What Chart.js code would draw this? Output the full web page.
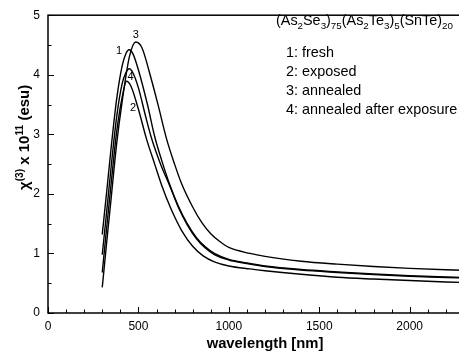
<!DOCTYPE html>
<html>
<head>
<meta charset="utf-8">
<script src="https://cdn.jsdelivr.net/npm/chart.js@4.4.0/dist/chart.umd.min.js"></script>
<style>
  html, body { margin: 0; padding: 0; background: #fff; overflow: hidden; }
  #wrap { width: 484px; height: 354px; }
</style>
</head>
<body>
<div id="wrap"><canvas id="chart" width="484" height="354"></canvas></div>
<script>
// dados
const freshNm = [300, 325, 350, 380, 410, 430, 449, 470, 500, 550, 591, 630, 674, 720, 770, 820, 870, 920, 1000, 1100, 1200, 1400, 1600, 1800, 2000, 2200, 2400];
const freshChi = [1.32, 2.05, 2.8, 3.6, 4.15, 4.35, 4.42, 4.35, 4.08, 3.5, 2.95, 2.55, 2.15, 1.8, 1.5, 1.27, 1.11, 1.0, 0.9, 0.84, 0.79, 0.73, 0.69, 0.655, 0.625, 0.605, 0.59];

const exposedNm = [300, 325, 350, 380, 410, 434, 460, 500, 545, 590, 628, 680, 740, 800, 858, 920, 1000, 1117, 1200, 1400, 1600, 1800, 2000, 2200, 2400];
const exposedChi = [0.68, 1.45, 2.2, 3.05, 3.62, 3.89, 3.8, 3.42, 2.92, 2.5, 2.15, 1.75, 1.38, 1.12, 0.96, 0.86, 0.79, 0.74, 0.71, 0.65, 0.6, 0.57, 0.545, 0.52, 0.505];

const annealedNm = [300, 325, 350, 380, 410, 450, 485, 520, 560, 609, 656, 700, 739, 800, 850, 900, 950, 1000, 1117, 1200, 1400, 1600, 1800, 2000, 2200, 2400];
const annealedChi = [0.43, 1.2, 1.95, 2.85, 3.55, 4.3, 4.55, 4.45, 4.05, 3.49, 2.92, 2.5, 2.17, 1.78, 1.52, 1.33, 1.2, 1.1, 1.0, 0.95, 0.87, 0.82, 0.78, 0.75, 0.725, 0.71];

const annealedExpNm = [300, 325, 350, 380, 410, 430, 449, 470, 500, 540, 573, 620, 674, 720, 770, 820, 870, 920, 1000, 1100, 1200, 1400, 1600, 1800, 2000, 2200, 2400];
const annealedExpChi = [0.98, 1.72, 2.48, 3.3, 3.85, 4.03, 4.10, 4.03, 3.78, 3.3, 2.93, 2.52, 2.13, 1.78, 1.48, 1.25, 1.09, 0.98, 0.89, 0.83, 0.78, 0.72, 0.68, 0.645, 0.615, 0.595, 0.58];

const curveLabels = ['1', '2', '3', '4'];
const labelPos = [[393, 4.4], [471, 3.44], [486, 4.67], [456, 3.97]];
const legendLines = ['1: fresh', '2: exposed', '3: annealed', '4: annealed after exposure'];
const xTicks = [0, 500, 1000, 1500, 2000];
const yTicks = [0, 1, 2, 3, 4, 5];

const FONT = '"Liberation Sans", Arial, sans-serif';

function pts(xs, ys) {
    return xs.map((x, i) => ({ x: x, y: ys[i] }));
}

function lineSet(xs, ys) {
    return {
        data: pts(xs, ys),
        borderColor: '#000',
        borderWidth: 1.4,
        pointRadius: 0,
        fill: false,
        cubicInterpolationMode: 'monotone'
    };
}

// escreve texto com indices (sub / sup)
function drawRuns(ctx, runs, x, y, size, weight) {
    let cx = x;
    runs.forEach(r => {
        const small = r[1] !== 0;
        const fs = small ? size * 0.68 : size;
        ctx.font = weight + ' ' + fs + 'px ' + FONT;
        const dy = r[1] === 1 ? size * 0.28 : (r[1] === -1 ? -size * 0.42 : 0);
        ctx.fillText(r[0], cx, y + dy);
        cx += ctx.measureText(r[0]).width;
    });
}

const decor = {
    id: 'decor',
    afterDraw(chart) {
        const ctx = chart.ctx;
        const a = chart.chartArea;
        const xs = chart.scales.x, ys = chart.scales.y;
        ctx.save();
        ctx.strokeStyle = '#000';
        ctx.fillStyle = '#000';

        // moldura
        ctx.lineWidth = 1.5;
        ctx.strokeRect(a.left, a.top, a.right - a.left, a.bottom - a.top);

        // ticks para dentro
        ctx.lineWidth = 1;
        for (let v = 0; v <= 2400; v += 100) {
            const px = Math.round(xs.getPixelForValue(v)) + 0.5;
            const len = v % 500 === 0 ? 6 : 3.5;
            ctx.beginPath();
            ctx.moveTo(px, a.bottom);
            ctx.lineTo(px, a.bottom - len);
            ctx.stroke();
        }
        for (let v = 0; v <= 5; v += 0.5) {
            const py = Math.round(ys.getPixelForValue(v)) + 0.5;
            const len = v % 1 === 0 ? 6 : 3.5;
            ctx.beginPath();
            ctx.moveTo(a.left, py);
            ctx.lineTo(a.left + len, py);
            ctx.stroke();
        }

        // numeros das curvas
        ctx.font = '11px ' + FONT;
        ctx.textAlign = 'center';
        ctx.textBaseline = 'middle';
        curveLabels.forEach((t, i) => {
            ctx.fillText(t, xs.getPixelForValue(labelPos[i][0]), ys.getPixelForValue(labelPos[i][1]));
        });

        // legenda
        ctx.textAlign = 'left';
        ctx.textBaseline = 'alphabetic';
        drawRuns(ctx, [['(As', 0], ['2', 1], ['Se', 0], ['3', 1], [')', 0], ['75', 1],
            ['(As', 0], ['2', 1], ['Te', 0], ['3', 1], [')', 0], ['5', 1],
            ['(SnTe)', 0], ['20', 1]], 276, 25, 14.4, 'normal');
        ctx.font = '14.4px ' + FONT;
        legendLines.forEach((t, i) => ctx.fillText(t, 286, 57 + i * 19));

        // titulo x
        ctx.font = 'bold 14.8px ' + FONT;
        ctx.textAlign = 'center';
        ctx.fillText('wavelength [nm]', (a.left + a.right) / 2, 348);

        // titulo y
        ctx.translate(29, 190);
        ctx.rotate(-Math.PI / 2);
        ctx.textAlign = 'left';
        drawRuns(ctx, [['\u03C7', 0], ['(3)', -1], [' x 10', 0], ['11', -1], [' (esu)', 0]], 0, 0, 15, 'bold');
        ctx.restore();
    }
};

new Chart(document.getElementById('chart').getContext('2d'), {
    type: 'line',
    data: {
        datasets: [
            lineSet(freshNm, freshChi),
            lineSet(exposedNm, exposedChi),
            lineSet(annealedNm, annealedChi),
            lineSet(annealedExpNm, annealedExpChi)
        ]
    },
    options: {
        responsive: false,
        animation: false,
        layout: { padding: { top: 8, right: 2, left: 0, bottom: 0 } },
        plugins: { legend: { display: false }, tooltip: { enabled: false } },
        scales: {
            x: {
                type: 'linear',
                min: 0,
                max: 2400,
                afterBuildTicks: s => { s.ticks = xTicks.map(v => ({ value: v })); },
                afterFit: s => { s.height = 41; },
                grid: { display: false, drawTicks: false },
                border: { display: false },
                ticks: { color: '#000', font: { size: 12, family: FONT }, padding: 6, maxRotation: 0, callback: v => String(v) }
            },
            y: {
                min: 0,
                max: 5,
                afterBuildTicks: s => { s.ticks = yTicks.map(v => ({ value: v })); },
                afterFit: s => { s.width = 48; },
                grid: { display: false, drawTicks: false },
                border: { display: false },
                ticks: { color: '#000', font: { size: 12, family: FONT }, padding: 8, callback: v => String(v) }
            }
        }
    },
    plugins: [decor]
});
</script>
</body>
</html>
